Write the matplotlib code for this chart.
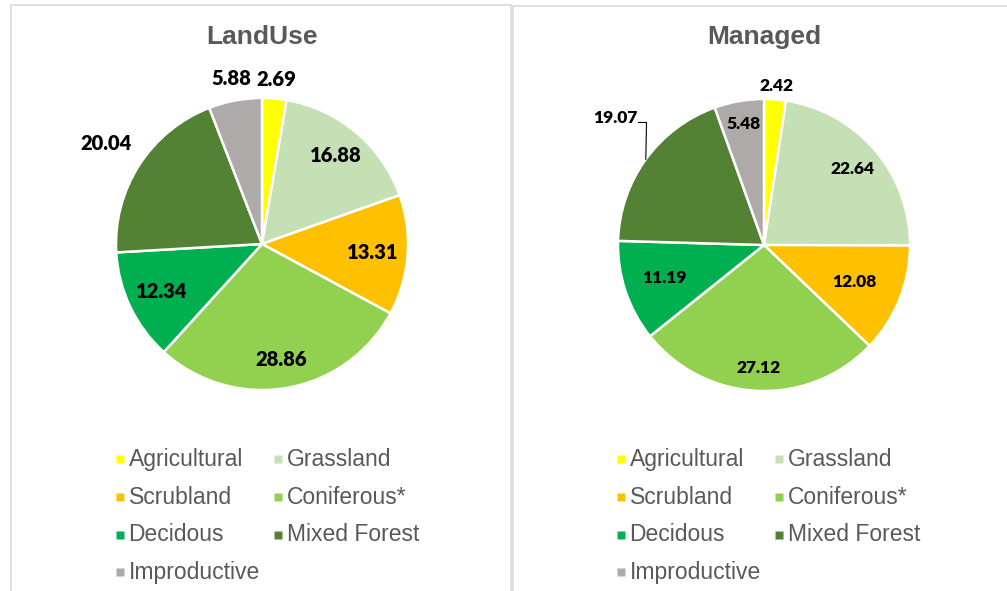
import matplotlib
matplotlib.use("Agg")
import matplotlib.pyplot as plt
from matplotlib.patches import Rectangle
from matplotlib.lines import Line2D
import numpy as np

categories = ["Agricultural", "Grassland", "Scrubland", "Coniferous*",
              "Decidous", "Mixed Forest", "Improductive"]
landuse_values = [2.69, 16.88, 13.31, 28.86, 12.34, 20.04, 5.88]
managed_values = [2.42, 22.64, 12.08, 27.12, 11.19, 19.07, 5.48]
colors = ["#FFFF00", "#C5E0B4", "#FFC000", "#92D050", "#00B050", "#548235", "#AEAAAA"]
titles = ["LandUse", "Managed"]

W, H = 1007, 591
fig = plt.figure(figsize=(W / 100, H / 100), dpi=100)
fig.patch.set_facecolor("white")

def add_rect(x0, y0, x1, y1):
    fig.patches.append(Rectangle((x0 / W, 1 - y1 / H), (x1 - x0) / W, (y1 - y0) / H,
                                 transform=fig.transFigure, fill=False,
                                 edgecolor="#D9D9D9", linewidth=1.2, zorder=0))
add_rect(11, 5, 511, 600)
add_rect(513, 6, 1020, 600)

R = 146
panels = [
    dict(values=landuse_values, cx=262, cy=244, title_x=262,
         rfrac=[1.13, 0.79, 0.76, 0.80, 0.76, 1.27, 1.15],
         dang=[0, 0, 0, 0, 0, 0, 0], fs=14.5,
         leader=None, legend_x=116),
    dict(values=managed_values, cx=764, cy=245, title_x=764,
         rfrac=[1.09, 0.80, 0.67, 0.84, 0.72, 1.34, 0.84],
         dang=[0, 0, 0, 0, 0, 4.5, 0], fs=12.5,
         leader=5, legend_x=617),
]

for p, title in zip(panels, titles):
    cx, cy = p["cx"], p["cy"]
    ax = fig.add_axes([(cx - R) / W, 1 - (cy + R) / H, 2 * R / W, 2 * R / H])
    vals = p["values"]
    ax.pie(vals, colors=colors, startangle=90, counterclock=False, radius=1,
           wedgeprops=dict(edgecolor="white", linewidth=1.8))
    ax.set_xlim(-1, 1)
    ax.set_ylim(-1, 1)
    ax.set_aspect("equal")
    ax.axis("off")
    total = float(np.sum(vals))
    cum = np.cumsum([0] + list(vals))
    for i, v in enumerate(vals):
        mid = (cum[i] + cum[i + 1]) / 2 / total
        th_mid = np.deg2rad(90 - 360 * mid)
        th = np.deg2rad(90 - 360 * mid - p["dang"][i])
        r = p["rfrac"][i]
        x, y = r * np.cos(th), r * np.sin(th)
        ax.text(x, y, f"{v:.2f}", ha="center", va="center", fontsize=p["fs"],
                fontweight="heavy", family="Lato", color="black", clip_on=False)
        if p["leader"] == i:
            ex, ey = np.cos(th_mid), np.sin(th_mid)
            lx = x + 0.16
            ly = y - 0.03
            ax.plot([lx, lx + 0.055, ex], [ly, ly, ey], color="black",
                    linewidth=0.8, clip_on=False)
    fig.text(p["title_x"] / W, 1 - 37 / H, title, ha="center", va="center",
             fontsize=19, fontweight="bold", color="#595959", family="Liberation Sans")

    order = [0, 2, 4, 6, 1, 3, 5]
    handles = [Line2D([], [], linestyle="none", marker="s", markersize=6,
                      markerfacecolor=colors[k], markeredgecolor="none",
                      label=categories[k]) for k in order]
    leg = fig.legend(handles=handles, loc="upper left", ncol=2,
                     bbox_to_anchor=(p["legend_x"] / W, 1 - 448 / H),
                     frameon=False, handlelength=0.35, handleheight=0.35,
                     handletextpad=0.2, columnspacing=0.62, labelspacing=0.64,
                     prop=dict(family="Liberation Sans", size=16.5), borderpad=0,
                     borderaxespad=0)
    for t in leg.get_texts():
        t.set_color("#595959")

fig.savefig("out.png", dpi=100, facecolor="white")
